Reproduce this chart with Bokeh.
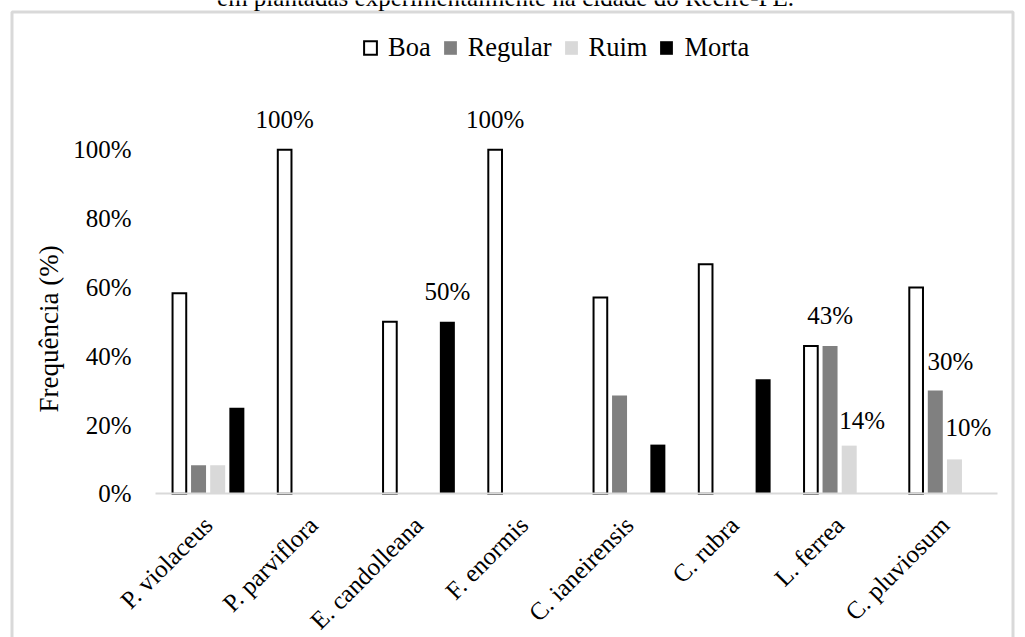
import math

from bokeh.core.properties import value
from bokeh.embed import file_html
from bokeh.models import (ColumnDataSource, FixedTicker, Label, Legend, LegendItem,
                          LinearAxis, PrintfTickFormatter, Range1d)
from bokeh.plotting import figure
from bokeh.resources import INLINE
from bokeh.transform import dodge

# ---- data -------------------------------------------------------------
species = ["P. violaceus", "P. parviflora", "E. candolleana", "F. enormis",
           "C. ianeirensis", "C. rubra", "L. ferrea", "C. pluviosum"]
boa = [58.3, 100, 50, 100, 57.1, 66.7, 43, 60]
regular = [8.3, 0, 0, 0, 28.6, 0, 43, 30]
ruim = [8.3, 0, 0, 0, 0, 0, 14, 10]
morta = [25, 0, 50, 0, 14.3, 33.3, 0, 0]
y_ticks = [0, 20, 40, 60, 80, 100]

series_names = ["Boa", "Regular", "Ruim", "Morta"]
series_values = [boa, regular, ruim, morta]

# bars that carry a value label
labelled = [("P. parviflora", "Boa"), ("E. candolleana", "Morta"),
            ("F. enormis", "Boa"), ("L. ferrea", "Regular"),
            ("L. ferrea", "Ruim"), ("C. pluviosum", "Regular"),
            ("C. pluviosum", "Ruim")]

title_text = "em plantadas experimentalmente na cidade do Recife-PE."
y_title = "Frequência (%)"

# ---- layout / style ---------------------------------------------------
W, H = 1025, 637
FONT = "Liberation Serif"
X0_PX = 155.0        # left end of the category axis
CAT_PX = 105.25      # width of one category
ZERO_PX = 493.3      # pixel row of 0 %
PCT_PX = 3.44        # pixels per percentage point

x_range = Range1d(0.5 - X0_PX / CAT_PX, 0.5 - X0_PX / CAT_PX + W / CAT_PX)
y_range = Range1d(-(H - ZERO_PX) / PCT_PX, ZERO_PX / PCT_PX)


def sx(px):
    return x_range.start + px / CAT_PX


def sy(py):
    return y_range.end - py / PCT_PX


offsets = {"Boa": -0.273, "Regular": -0.091, "Ruim": 0.091, "Morta": 0.273}
fills = {"Boa": "white", "Regular": "#808080", "Ruim": "#d9d9d9", "Morta": "black"}
# pixel nudges for the value labels
label_dx = {("L. ferrea", "Ruim"): 13, ("C. pluviosum", "Regular"): 15,
            ("C. pluviosum", "Ruim"): 14}
label_dy = {("L. ferrea", "Ruim"): 25, ("C. pluviosum", "Regular"): 29,
            ("C. pluviosum", "Ruim"): 32}
LABEL_GAP = 30

pos = list(range(1, len(species) + 1))
data = {"pos": pos, "species": species}
for name, vals in zip(series_names, series_values):
    data[name] = vals
source = ColumnDataSource(data)

p = figure(width=W, height=H, x_range=x_range, y_range=y_range,
           output_backend="svg", toolbar_location=None,
           x_axis_location=None, y_axis_location=None,
           min_border=0, min_border_left=0, min_border_right=0,
           min_border_top=0, min_border_bottom=0)
p.outline_line_color = None
p.xgrid.visible = False
p.ygrid.visible = False
p.background_fill_color = "white"
p.border_fill_color = "white"

# light frame around the chart
p.quad(left=[sx(11.5)], right=[sx(1012.5)], top=[sy(11.5)], bottom=[sy(720)],
       fill_color=None, line_color="#d9d9d9", line_width=3)

renderers = {}
for name in series_names:
    if name == "Boa":
        r = p.vbar(x=dodge("pos", offsets[name]), top=name, width=0.13, source=source,
                   fill_color="white", line_color="black", line_width=2,
                   line_join="miter")
    else:
        r = p.vbar(x=dodge("pos", offsets[name]), top=name, width=0.1425, source=source,
                   fill_color=fills[name], line_color=None)
    renderers[name] = r

# value labels
lx, ly, lt, lxo, lyo = [], [], [], [], []
for sp, ser in labelled:
    i = species.index(sp)
    v = series_values[series_names.index(ser)][i]
    lx.append(pos[i] + offsets[ser])
    ly.append(v)
    lt.append(f"{round(v)}%")
    lxo.append(label_dx.get((sp, ser), 0))
    lyo.append(-label_dy.get((sp, ser), LABEL_GAP))
lsrc = ColumnDataSource(dict(x=lx, y=ly, text=lt, xo=lxo, yo=lyo))
p.text(x="x", y="y", text="text", x_offset="xo", y_offset="yo", source=lsrc,
       text_align="center", text_baseline="alphabetic",
       text_font=value(FONT), text_font_size="25px", text_color="black")

# axes
yaxis = LinearAxis(fixed_location=0.5, ticker=FixedTicker(ticks=y_ticks),
                   formatter=PrintfTickFormatter(format="%d%%"),
                   axis_line_color=None, major_tick_line_color=None,
                   minor_tick_line_color=None, major_label_standoff=18,
                   major_label_text_font=FONT, major_label_text_font_size="25px",
                   major_label_text_color="black")
p.add_layout(yaxis, "left")

xaxis = LinearAxis(fixed_location=0, bounds=(0.5, len(species) + 0.5),
                   ticker=FixedTicker(ticks=pos),
                   major_label_overrides={k: s for k, s in zip(pos, species)},
                   major_label_orientation=math.pi / 4,
                   axis_line_color="#d9d9d9", axis_line_width=2,
                   major_tick_line_color=None, minor_tick_line_color=None,
                   major_label_standoff=21,
                   major_label_text_font=FONT, major_label_text_font_size="25px",
                   major_label_text_color="black")
p.add_layout(xaxis, "below")

# legend
legend = Legend(items=[LegendItem(label=n, renderers=[renderers[n]]) for n in series_names],
                orientation="horizontal", location=(362, 574),
                glyph_width=16, glyph_height=17, label_standoff=10, spacing=11,
                padding=0, margin=0, border_line_color=None,
                background_fill_alpha=0,
                label_text_font=FONT, label_text_font_size="26.5px",
                label_text_color="black")
p.add_layout(legend)

# titles
p.add_layout(Label(x=sx(505), y=sy(-3), text=title_text, text_align="center",
                   text_baseline="alphabetic", text_font=FONT,
                   text_font_size="25px", text_color="black"))
p.add_layout(Label(x=sx(48), y=sy(328.4), text=y_title, angle=math.pi / 2,
                   text_align="center", text_baseline="middle", text_font=FONT,
                   text_font_size="27px", text_color="black"))

open("out.html", "w").write(file_html(p, INLINE))
